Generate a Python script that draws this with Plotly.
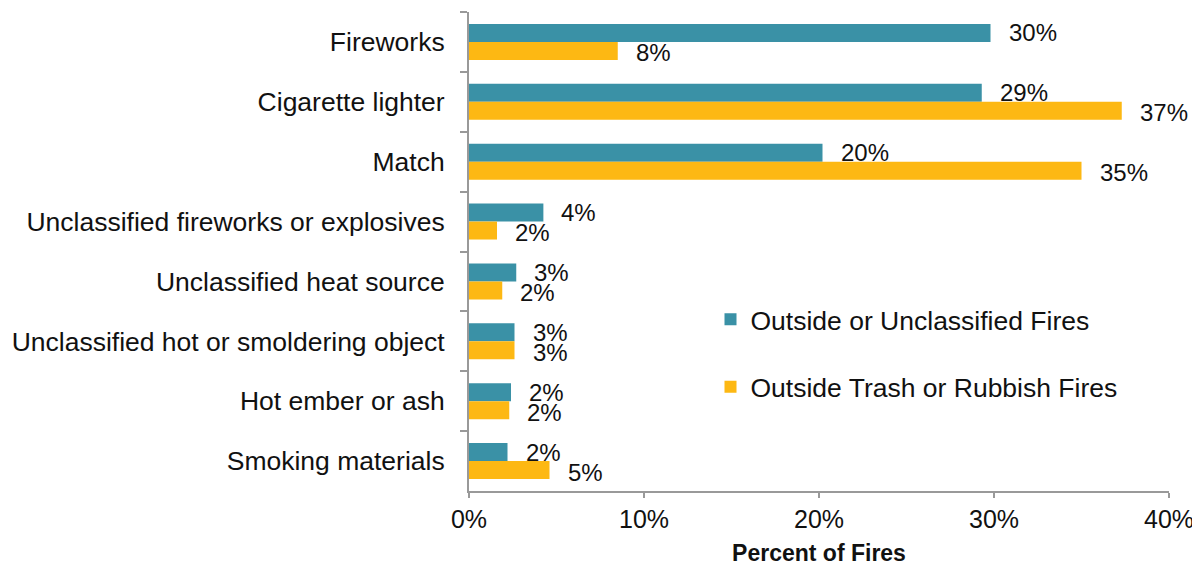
import plotly.graph_objects as go

# Zündquellen (von oben nach unten)
categories = ["Fireworks", "Cigarette lighter", "Match",
              "Unclassified fireworks or explosives", "Unclassified heat source",
              "Unclassified hot or smoldering object", "Hot ember or ash",
              "Smoking materials"]
outside_unclassified = [29.8, 29.3, 20.2, 4.25, 2.7, 2.6, 2.4, 2.2]
trash_rubbish = [8.5, 37.3, 35.0, 1.6, 1.9, 2.6, 2.3, 4.6]
series_names = ["Outside or Unclassified Fires", "Outside Trash or Rubbish Fires"]
tick_vals = [0, 10, 20, 30, 40]
tick_text = ["0%", "10%", "20%", "30%", "40%"]

teal = "rgb(58,145,166)"
gold = "rgb(253,184,19)"
font_family = "Liberation Sans, Arial, sans-serif"

fig = go.Figure()
fig.add_trace(go.Bar(y=categories, x=outside_unclassified, name=series_names[0],
                     orientation="h", marker=dict(color=teal, line=dict(width=0)),
                     legendgroup="a"))
fig.add_trace(go.Bar(y=categories, x=trash_rubbish, name=series_names[1],
                     orientation="h", marker=dict(color=gold, line=dict(width=0)),
                     legendgroup="b"))

# Datenbeschriftungen neben den Balken
annotations = []
for series, yshift in [(outside_unclassified, 9), (trash_rubbish, -11)]:
    for cat, val in zip(categories, series):
        annotations.append(dict(x=val, y=cat, text=f"{round(val)}%", showarrow=False,
                                xanchor="left", yanchor="middle", xshift=16, yshift=yshift,
                                font=dict(size=24, color="#111", family=font_family)))

# Seite hat 8px body-margin -> Ränder entsprechend verschoben
fig.update_layout(
    width=1200, height=566,
    barmode="group", bargap=0.4, bargroupgap=0,
    margin=dict(l=461, r=39, t=4, b=83, autoexpand=False),
    paper_bgcolor="white", plot_bgcolor="white",
    font=dict(family=font_family, size=26.5, color="#111"),
    annotations=annotations,
    legend=dict(x=0.345, y=0.288, xanchor="left", yanchor="middle",
                traceorder="grouped", tracegroupgap=30,
                font=dict(size=26.5, color="#111"), bgcolor="rgba(0,0,0,0)"),
    xaxis=dict(range=[0, 40], tickvals=tick_vals, ticktext=tick_text, automargin=False,
               showgrid=False, zeroline=False, showline=True, linecolor="#999",
               linewidth=2, ticks="outside", tickcolor="#999", ticklen=5, tickwidth=2,
               tickfont=dict(size=25), title=dict(text="<b>Percent of Fires</b>",
                                                  font=dict(size=23), standoff=13)),
    yaxis=dict(autorange="reversed", showgrid=False, showline=True, linecolor="#999",
               automargin=False,
               linewidth=2, ticks="outside", tickson="boundaries", tickcolor="#999",
               ticklen=7, tickwidth=2, tickfont=dict(size=26.5), ticklabelstandoff=17),
)

fig.write_html("out.html")
